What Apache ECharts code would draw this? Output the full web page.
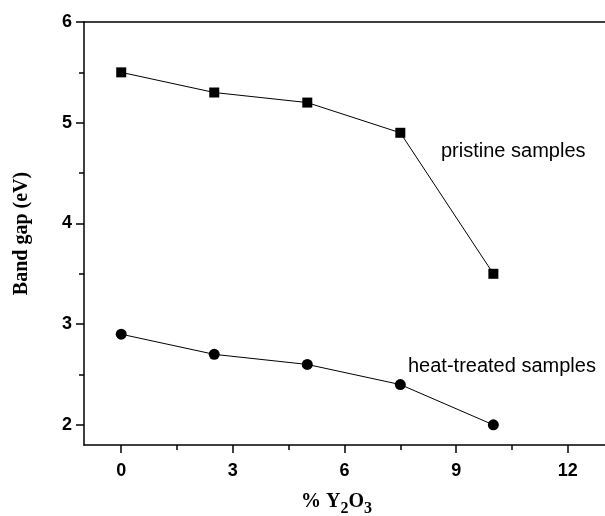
<!DOCTYPE html>
<html>
<head>
<meta charset="utf-8">
<script src="https://cdn.jsdelivr.net/npm/echarts@6/dist/echarts.min.js"></script>
<style>
  html, body { margin: 0; padding: 0; background: #fff; }
  #chart { width: 605px; height: 516px; }
</style>
</head>
<body>
<div id="chart"></div>
<script>
// % Y2O3 content
var y2o3 = [0, 2.5, 5, 7.5, 10];
// band gap (eV)
var pristine = [5.5, 5.3, 5.2, 4.9, 3.5];
var heatTreated = [2.9, 2.7, 2.6, 2.4, 2.0];
var xTicks = [0, 3, 6, 9, 12];
var xMinorTicks = [1.5, 4.5, 7.5, 10.5];
var yTicks = [2, 3, 4, 5, 6];
var yMinorTicks = [2.5, 3.5, 4.5, 5.5];

function pairs(xs, ys) {
  return xs.map(function (x, i) { return [x, ys[i]]; });
}

var black = { color: "#000", width: 1.5 };
var tickFont = { fontFamily: "Liberation Sans", fontWeight: "bold", fontSize: 18, color: "#000" };

var myChart = echarts.init(document.getElementById("chart"));

var option = {
  animation: false,
  grid: { left: 84, right: 0, top: 22, bottom: 71, outerBoundsMode: "none" },
  xAxis: [
    {
      type: "value",
      min: -1,
      max: 13,
      name: "{n|% Y}{s|2}{n|O}{s|3}",
      nameLocation: "middle",
      nameGap: 42,
      nameTextStyle: {
        padding: [0, 16, 0, 0],
        rich: {
          n: { fontFamily: "Liberation Serif", fontWeight: "bold", fontSize: 20, color: "#000" },
          s: { fontFamily: "Liberation Serif", fontWeight: "bold", fontSize: 16, color: "#000", padding: [14, 0, 0, 0] }
        }
      },
      axisLine: { show: true, onZero: false, lineStyle: black },
      axisTick: { show: true, length: 8, lineStyle: black, customValues: xTicks },
      axisLabel: Object.assign({ margin: 17, customValues: xTicks }, tickFont),
      splitLine: { show: false }
    },
    {
      type: "value",
      position: "top",
      min: -1,
      max: 13,
      axisLine: { show: true, onZero: false, lineStyle: black },
      axisTick: { show: false },
      axisLabel: { show: false },
      splitLine: { show: false }
    },
    {
      // minor ticks along the bottom
      type: "value",
      position: "bottom",
      min: -1,
      max: 13,
      axisLine: { show: false, onZero: false },
      axisTick: { show: true, length: 5, lineStyle: black, customValues: xMinorTicks },
      axisLabel: { show: false },
      splitLine: { show: false }
    }
  ],
  yAxis: [
    {
      type: "value",
      min: 1.8,
      max: 6,
      name: "Band gap (eV)",
      nameLocation: "middle",
      nameGap: 52,
      nameTextStyle: { fontFamily: "Liberation Serif", fontWeight: "bold", fontSize: 20, color: "#000" },
      axisLine: { show: true, onZero: false, lineStyle: black },
      axisTick: { show: true, length: 8, lineStyle: black, customValues: yTicks },
      axisLabel: Object.assign({ margin: 12, customValues: yTicks }, tickFont),
      splitLine: { show: false }
    },
    {
      // minor ticks along the left
      type: "value",
      position: "left",
      min: 1.8,
      max: 6,
      axisLine: { show: false, onZero: false },
      axisTick: { show: true, length: 5, lineStyle: black, customValues: yMinorTicks },
      axisLabel: { show: false },
      splitLine: { show: false }
    }
  ],
  series: [
    {
      name: "pristine samples",
      type: "line",
      data: pairs(y2o3, pristine),
      symbol: "rect",
      symbolSize: 10,
      itemStyle: { color: "#000" },
      lineStyle: { color: "#000", width: 1 }
    },
    {
      name: "heat-treated samples",
      type: "line",
      data: pairs(y2o3, heatTreated),
      symbol: "circle",
      symbolSize: 11,
      itemStyle: { color: "#000" },
      lineStyle: { color: "#000", width: 1 }
    }
  ],
  graphic: [
    {
      type: "text", left: 441, top: 141,
      style: { text: "pristine samples", fontFamily: "Liberation Sans", fontSize: 20, fill: "#000" }
    },
    {
      type: "text", left: 408, top: 356,
      style: { text: "heat-treated samples", fontFamily: "Liberation Sans", fontSize: 20, fill: "#000" }
    }
  ]
};

myChart.setOption(option);
</script>
</body>
</html>
